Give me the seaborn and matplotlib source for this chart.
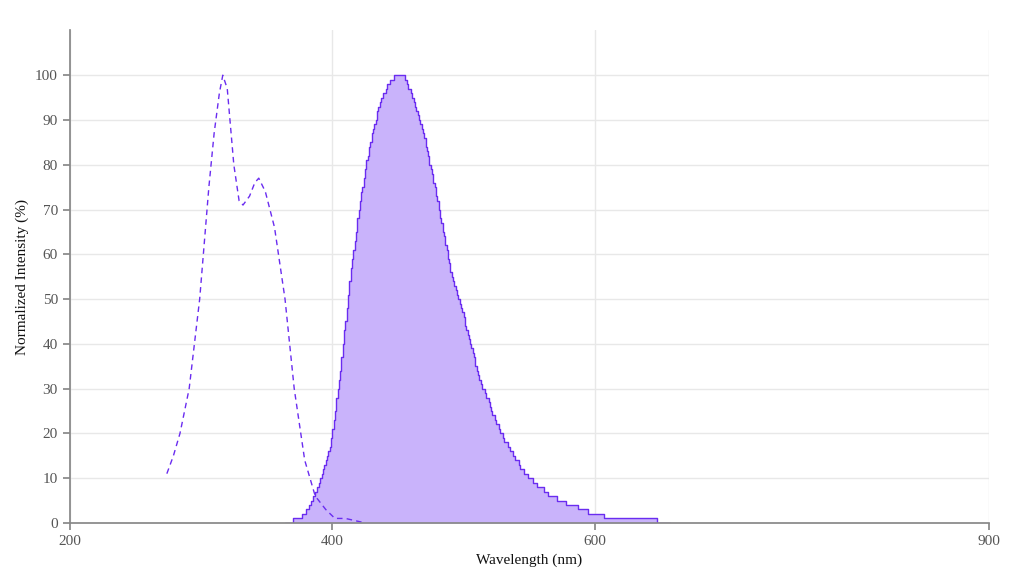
import numpy as np
import matplotlib
matplotlib.use("Agg")
import matplotlib.pyplot as plt
import seaborn as sns

ex_wl = [274, 279, 284, 291, 299, 306, 310, 314, 316.6, 320, 325, 329, 332, 337, 341, 344, 349, 356, 364, 371, 379, 387, 395, 402, 410, 425]
ex_val = [11, 15, 20, 30, 50, 75, 87, 96, 100, 97, 80, 72, 71, 73, 76, 77, 74, 66, 50, 30, 14, 6, 3, 1, 1, 0]

em_wl = [364, 375, 383, 391, 398.5, 406, 413.7, 421, 428.6, 436, 443.8, 448, 454, 460, 468, 476, 484, 491, 497, 505, 512, 520, 528, 536, 544, 550, 558, 566, 574, 582, 590, 600, 613, 630, 646, 647, 657]
em_val = [0, 1, 4, 10, 18, 34, 56, 72, 85, 94, 98.7, 100, 100, 96, 88, 78, 65, 55, 49, 40, 32, 26, 20, 16, 12, 10, 8, 6, 5, 4, 3, 2, 1, 1, 1, 0, 0]

sns.set_theme(style="whitegrid", rc={"font.family": "Liberation Serif"})
fig, ax = plt.subplots(figsize=(10.1, 5.74), dpi=100)
fig.subplots_adjust(left=0.069, right=0.979, top=0.947, bottom=0.089)

lc = "#6a2cf0"
# emission: stepped integer values
x = np.arange(364, 658)
y = np.round(np.interp(x, em_wl, em_val))
ax.fill_between(x, y, step="post", color="#c9b3fb", lw=0)
sns.lineplot(x=x, y=y, ax=ax, color=lc, lw=1, drawstyle="steps-post")
sns.lineplot(x=ex_wl, y=ex_val, ax=ax, color=lc, lw=1, linestyle=(0, (4, 3)))

ax.set_xlim(200, 900)
ax.set_ylim(0, 110)
ax.set_xticks([200, 400, 600, 900])
ax.set_yticks(range(0, 101, 10))
ax.set_xlabel("Wavelength (nm)", fontsize=11, color="#111")
ax.set_ylabel("Normalized Intensity (%)", fontsize=11, color="#111")
ax.tick_params(labelsize=11, colors="#555", length=5, left=True, bottom=True, color="#888")
ax.grid(color="#e8e8e8", lw=1)
for s in ["top", "right"]:
    ax.spines[s].set_visible(False)
for s in ["left", "bottom"]:
    ax.spines[s].set_color("#888")
ax.set_facecolor("white")
fig.savefig("out.png")
